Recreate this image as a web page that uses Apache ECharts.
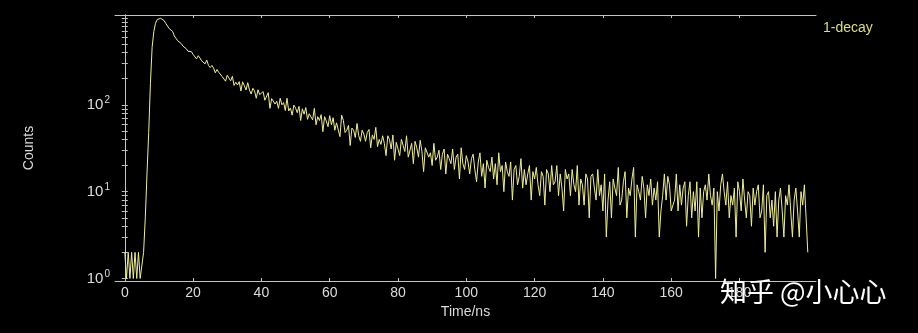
<!DOCTYPE html>
<html>
<head>
<meta charset="utf-8">
<script src="https://cdn.jsdelivr.net/npm/echarts@6/dist/echarts.min.js"></script>
<style>
  html, body { margin: 0; padding: 0; background: #000; }
  #chart { width: 918px; height: 333px; }
</style>
</head>
<body>
<div id="chart"></div>
<script>
// Fluorescence decay histogram: photon counts per 0.5 ns channel.
const seriesName = '1-decay';
const timeStart = 0;   // ns, first channel
const timeStep = 0.5;  // ns per channel

// 0 – 5.5 ns: background before the excitation pulse
const baselineCounts = [2, 1, 2, 1, 2, 1, 2, 1, 2, 1, 1, 2];
// 6 – 10 ns: rising edge up to the peak
const riseCounts = [5, 16, 48, 175, 460, 700, 870, 960, 1000];
// 10.5 – 50 ns
const decayEarly = [
  991, 941, 933, 865, 835, 754, 728, 701, 620, 591,
  546, 540, 508, 475, 482, 442, 414, 418, 409, 380,
  373, 338, 368, 346, 321, 330, 296, 327, 285, 269,
  284, 265, 234, 255, 237, 248, 212, 221, 187, 219,
  208, 189, 213, 167, 182, 169, 185, 144, 184, 166,
  148, 180, 148, 133, 155, 144, 119, 149, 131, 137,
  142, 113, 116, 138, 91, 118, 120, 102, 110, 91,
  119, 100, 106, 86, 119, 85, 92, 76, 99, 92
];
// 50.5 – 100 ns
const decayMid = [
  81, 96, 66, 90, 78, 93, 68, 79, 81, 67,
  91, 59, 73, 66, 77, 49, 73, 65, 56, 75,
  59, 71, 51, 62, 64, 43, 76, 66, 48, 51,
  58, 34, 54, 51, 42, 61, 44, 38, 51, 46,
  38, 48, 52, 32, 45, 40, 55, 33, 40, 35,
  44, 36, 26, 44, 40, 31, 45, 23, 37, 38,
  26, 40, 34, 29, 44, 25, 30, 36, 21, 38,
  32, 25, 39, 29, 17, 32, 33, 25, 28, 20,
  36, 23, 25, 30, 18, 27, 31, 16, 27, 24,
  21, 31, 18, 25, 27, 14, 32, 21, 18, 26
];
// 100.5 – 150 ns
const decayLate = [
  22, 16, 24, 27, 18, 13, 22, 28, 15, 21,
  11, 23, 19, 17, 25, 14, 21, 12, 28, 17,
  20, 10, 22, 17, 15, 22, 8, 18, 20, 12,
  15, 24, 11, 18, 12, 16, 20, 8, 17, 14,
  19, 12, 9, 17, 15, 7, 18, 16, 10, 20,
  12, 13, 20, 9, 16, 11, 6, 18, 14, 16,
  9, 18, 12, 10, 20, 7, 14, 12, 7, 16,
  14, 5, 15, 16, 11, 8, 18, 9, 12, 6,
  16, 3, 8, 13, 5, 14, 11, 9, 19, 7,
  8, 13, 17, 5, 11, 9, 14, 19, 3, 12
];
// 150.5 – 200 ns
const decayTail = [
  10, 8, 15, 11, 5, 12, 9, 14, 7, 11,
  8, 13, 3, 6, 9, 16, 8, 15, 12, 6,
  7, 8, 16, 6, 12, 7, 11, 13, 4, 9,
  13, 5, 10, 6, 13, 3, 11, 5, 10, 12,
  8, 16, 9, 7, 11, 1, 10, 6, 12, 16,
  10, 7, 13, 5, 9, 7, 11, 3, 13, 10,
  6, 14, 8, 5, 10, 9, 4, 11, 7, 10,
  12, 5, 6, 12, 2, 9, 10, 5, 8, 4,
  10, 3, 8, 11, 6, 3, 9, 7, 12, 6,
  3, 8, 11, 6, 3, 10, 7, 12, 5, 2
];

// Axis ticks and labels
const xTickValues = [0, 20, 40, 60, 80, 100, 120, 140, 160, 180];
const yLabelValues = [1, 10, 100];
const yTickValues = [
  1, 2, 3, 4, 5, 6, 7, 8, 9,
  10, 20, 30, 40, 50, 60, 70, 80, 90,
  100, 200, 300, 400, 500, 600, 700, 800, 900, 1000
];
const xRange = [-2.87, 202.4];
const yRange = [0.936, 1082];

const counts = [].concat(baselineCounts, riseCounts, decayEarly, decayMid, decayLate, decayTail);
const points = counts.map((c, i) => [timeStart + i * timeStep, c]);

const axisGray = '#c4c4c4';
const labelGray = '#dcdcdc';
const font = '"Liberation Sans", Arial, sans-serif';

const chart = echarts.init(document.getElementById('chart'));
chart.setOption({
  backgroundColor: '#000',
  animation: false,
  grid: { left: 115, right: 102, top: 15, bottom: 52 },
  legend: {
    data: [{ name: seriesName, icon: 'none' }],
    left: 813, top: 16,
    itemWidth: 0, itemHeight: 0,
    textStyle: { color: '#dcdc86', fontSize: 14, fontFamily: font }
  },
  xAxis: [
    {
      type: 'value', min: xRange[0], max: xRange[1],
      name: 'Time/ns', nameLocation: 'middle', nameGap: 21,
      nameTextStyle: { color: labelGray, fontSize: 14, fontFamily: font },
      axisLine: { show: true, lineStyle: { color: axisGray, width: 1 } },
      axisTick: { show: true, inside: true, length: 3, customValues: xTickValues, lineStyle: { color: axisGray } },
      axisLabel: { customValues: xTickValues, color: labelGray, fontSize: 14, fontFamily: font, margin: 5 },
      splitLine: { show: false }
    },
    {
      type: 'value', min: xRange[0], max: xRange[1], position: 'top',
      axisLine: { show: true, onZero: false, lineStyle: { color: axisGray, width: 1 } },
      axisTick: { show: true, inside: true, length: 3, customValues: xTickValues, lineStyle: { color: axisGray } },
      axisLabel: { show: false },
      splitLine: { show: false }
    }
  ],
  yAxis: [
    {
      type: 'log', logBase: 10, min: yRange[0], max: yRange[1],
      name: 'Counts', nameLocation: 'middle', nameGap: 79, nameRotate: 90,
      nameTextStyle: { color: labelGray, fontSize: 14, fontFamily: font },
      axisLine: { show: true, lineStyle: { color: axisGray, width: 1 } },
      axisTick: { show: true, inside: true, length: 3, customValues: yTickValues, lineStyle: { color: axisGray } },
      axisLabel: {
        customValues: yLabelValues, margin: 5,
        formatter: v => '{b|10}{s|' + Math.round(Math.log10(v)) + '}',
        rich: {
          b: { color: labelGray, fontSize: 15, fontFamily: font },
          s: { color: labelGray, fontSize: 10, fontFamily: font, padding: [0, 0, 9, 1] }
        }
      },
      splitLine: { show: false }
    },
    {
      type: 'log', logBase: 10, min: yRange[0], max: yRange[1], position: 'right',
      axisLine: { show: true, lineStyle: { color: axisGray, width: 1 } },
      axisTick: { show: true, inside: true, length: 3, customValues: yTickValues, lineStyle: { color: axisGray } },
      axisLabel: { show: false },
      splitLine: { show: false }
    }
  ],
  series: [{
    name: seriesName,
    type: 'line',
    xAxisIndex: 0, yAxisIndex: 0,
    data: points,
    showSymbol: false,
    symbol: 'none',
    lineStyle: { color: '#eeee96', width: 1 },
    itemStyle: { color: '#eeee96' },
    emphasis: { disabled: true }
  }],
  graphic: [{
    type: 'text', left: 720, top: 278, z: 100,
    style: { text: '知乎 @小心心', fill: '#ffffff', font: '27px "Noto Sans CJK SC"' }
  }]
});
</script>
</body>
</html>
